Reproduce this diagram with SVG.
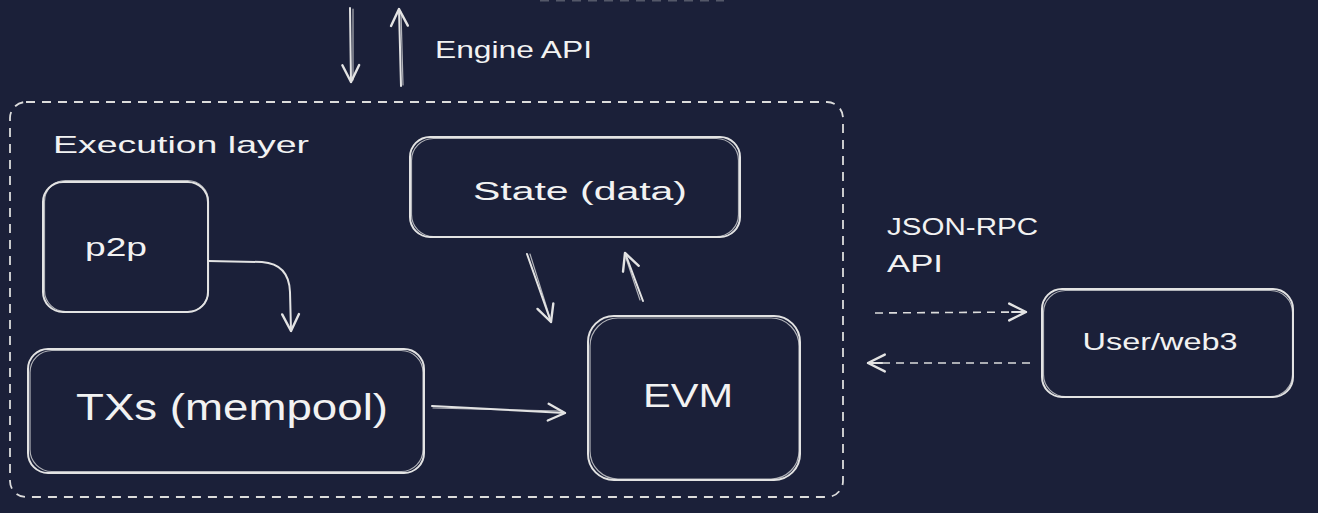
<svg xmlns="http://www.w3.org/2000/svg" width="1318" height="513" viewBox="0 0 1318 513">
<defs>
<style>
.bg{fill:#1b2039}
.box{fill:none;stroke:#e3e3e3;stroke-width:2}
.box2{fill:none;stroke:#e3e3e3;stroke-width:1.2;opacity:0.75}
.dash{fill:none;stroke:#dcdcdc;stroke-width:1.8;stroke-dasharray:9 7}
.ln{fill:none;stroke:#e3e3e3;stroke-width:2;stroke-linecap:round;stroke-linejoin:round}
.ln2{fill:none;stroke:#e3e3e3;stroke-width:1.2;stroke-linecap:round;opacity:0.75}
.dl{fill:none;stroke:#dcdcdc;stroke-width:1.6;stroke-dasharray:8 6}
text{fill:#f2f2f2;font-family:"Liberation Sans","DejaVu Sans",sans-serif}
</style>
<marker id="ah" markerUnits="userSpaceOnUse" markerWidth="24" markerHeight="24" refX="16" refY="8" orient="auto" viewBox="0 0 20 16">
<path d="M2,1 L16,8 L2,15" fill="none" stroke="#e3e3e3" stroke-width="2" stroke-linecap="round" stroke-linejoin="round"/>
</marker>
</defs>
<rect class="bg" x="0" y="0" width="1318" height="513"/>
<!-- faint fragment of box above the frame -->
<line x1="540" y1="0.5" x2="724" y2="0.5" class="dash" opacity="0.3"/>

<g id="execution-layer">
<rect class="dash" x="10" y="102" width="833" height="395" rx="16"/>
<text x="53" y="153" font-size="24" textLength="256" lengthAdjust="spacingAndGlyphs">Execution layer</text>
</g>

<g id="p2p">
<rect class="box" x="43" y="182" width="165" height="130" rx="20"/>
<rect class="box2" x="44.5" y="180.5" width="164" height="131" rx="21"/>
<text x="85" y="256" font-size="25" textLength="62" lengthAdjust="spacingAndGlyphs">p2p</text>
</g>

<g id="txs">
<rect class="box" x="28" y="349" width="396" height="124" rx="20"/>
<rect class="box2" x="30" y="350.5" width="393" height="121" rx="22"/>
<text x="232" y="420" font-size="36" text-anchor="middle" textLength="312" lengthAdjust="spacingAndGlyphs">TXs (mempool)</text>
</g>

<g id="state">
<rect class="box" x="410" y="137" width="330" height="100" rx="20"/>
<rect class="box2" x="411.5" y="138.5" width="327" height="98" rx="22"/>
<text x="580" y="200" font-size="26" text-anchor="middle" textLength="214" lengthAdjust="spacingAndGlyphs">State (data)</text>
</g>

<g id="evm">
<rect class="box" x="588" y="316" width="212" height="164" rx="26"/>
<rect class="box2" x="590" y="318" width="209" height="161" rx="28"/>
<text x="688" y="407" font-size="34" text-anchor="middle" textLength="90" lengthAdjust="spacingAndGlyphs">EVM</text>
</g>

<g id="user-web3">
<rect class="box" x="1042" y="289" width="251" height="108" rx="20"/>
<rect class="box2" x="1043.5" y="290.5" width="249" height="106" rx="22"/>
<text x="1160" y="350" font-size="24" text-anchor="middle" textLength="155" lengthAdjust="spacingAndGlyphs">User/web3</text>
</g>

<g id="labels">
<text x="435" y="58" font-size="24" textLength="157" lengthAdjust="spacingAndGlyphs">Engine API</text>
<text x="887" y="235" font-size="24" textLength="151" lengthAdjust="spacingAndGlyphs">JSON-RPC</text>
<text x="887" y="272" font-size="24" textLength="56" lengthAdjust="spacingAndGlyphs">API</text>
</g>

<g id="connectors">
<path class="ln" d="M350,8 L351,82" marker-end="url(#ah)"/>
<path class="ln2" d="M353,9 L353,80"/>
<path class="ln" d="M401,86 L399,9" marker-end="url(#ah)"/>
<path class="ln2" d="M403,85 L401,12"/>
<path class="ln" d="M208,261 L262,262 Q289,264 290,292 L291,331" marker-end="url(#ah)"/>
<path class="ln" d="M432,406 L565,413" marker-end="url(#ah)"/>
<path class="ln2" d="M433,408 L562,411"/>
<path class="ln" d="M527,254 L551,322" marker-end="url(#ah)"/>
<path class="ln2" d="M530,254 L550,318"/>
<path class="ln" d="M643,301 L625,253" marker-end="url(#ah)"/>
<path class="ln2" d="M640,300 L626,258"/>
<path class="dl" d="M875,313 L1026,312"/>
<path class="ln" d="M1012,312 L1026,312" marker-end="url(#ah)"/>
<path class="dl" d="M1030,363 L870,363"/>
<path class="ln" d="M882,363 L868,363" marker-end="url(#ah)"/>
</g>
</svg>
